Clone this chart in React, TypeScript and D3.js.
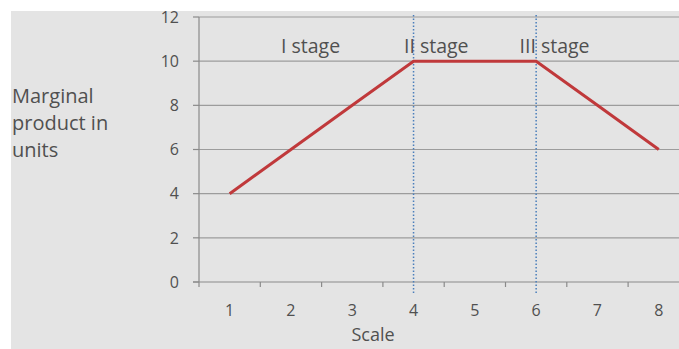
import React from "react";
import * as d3 from "d3";

const categories = ["1", "2", "3", "4", "5", "6", "7", "8"];
const marginalProduct = [4, 6, 8, 10, 10, 10, 8, 6];
const yTicks = [0, 2, 4, 6, 8, 10, 12];
const stageLabels = ["I stage", "II stage", "III stage"];
const stageAnchors = [2.32, 4.37, 6.3];
const stageBoundaries = ["4", "6"];
const yTitleLines = ["Marginal", "product  in", "units"];
const xTitle = "Scale";

const W = 679;
const H = 349;
const font = "'Open Sans', 'Noto Sans', sans-serif";
const textColor = "#505050";

export default function App() {
  const x = d3.scaleBand<string>().domain(categories).range([199, 199 + 8 * 61.3]);
  const y = d3.scaleLinear().domain([0, 12]).range([282, 17]);
  const xc = (c: string) => (x(c) as number) + x.bandwidth() / 2;
  const xv = d3
    .scaleLinear()
    .domain([1, 8])
    .range([xc("1"), xc("8")]);
  const line = d3
    .line<number>()
    .x((_, i) => xc(categories[i]))
    .y((d) => y(d));
  const bounds = categories.map((c) => x(c) as number).concat([199 + 8 * 61.3]);

  return (
    <svg
      width={W}
      height={H}
      style={{ position: "absolute", left: 0, top: 0, display: "block" }}
    >
      <rect x={0} y={0} width={W} height={H} fill="#fff" />
      <rect x={11} y={11} width={W - 11} height={H - 11} fill="#e4e4e4" />
      {yTicks.map((t) => (
        <g key={t}>
          {t > 0 && (
            <line x1={199} x2={W} y1={y(t)} y2={y(t)} stroke="#9c9c9c" strokeWidth={1.2} />
          )}
          <line x1={193} x2={199} y1={y(t)} y2={y(t)} stroke="#8a8a8a" strokeWidth={1.2} />
          <text
            x={179}
            y={y(t)}
            dy="0.36em"
            textAnchor="end"
            fontFamily={font}
            fontSize={16}
            fill={textColor}
          >
            {t}
          </text>
        </g>
      ))}
      <line x1={199} x2={199} y1={y(12)} y2={y(0)} stroke="#8a8a8a" strokeWidth={1.2} />
      <line x1={193} x2={W} y1={y(0)} y2={y(0)} stroke="#8a8a8a" strokeWidth={1.2} />
      {bounds.map((b, i) => (
        <line key={i} x1={b} x2={b} y1={y(0)} y2={y(0) + 5} stroke="#8a8a8a" strokeWidth={1.2} />
      ))}
      {categories.map((c) => (
        <text
          key={c}
          x={xc(c)}
          y={310}
          dy="0.36em"
          textAnchor="middle"
          fontFamily={font}
          fontSize={16}
          fill={textColor}
        >
          {c}
        </text>
      ))}
      {stageBoundaries.map((c) => (
        <line
          key={c}
          x1={xc(c)}
          x2={xc(c)}
          y1={15}
          y2={295}
          stroke="#4a7ebb"
          strokeWidth={1.5}
          strokeDasharray="1.5,2"
        />
      ))}
      <path d={line(marginalProduct) || ""} fill="none" stroke="#c0393b" strokeWidth={3} />
      {stageLabels.map((s, i) => (
        <text
          key={s}
          x={xv(stageAnchors[i])}
          y={46}
          dy="0.36em"
          textAnchor="middle"
          fontFamily={font}
          fontSize={19.5}
          fill={textColor}
        >
          {s}
        </text>
      ))}
      {yTitleLines.map((l, i) => (
        <text
          key={l}
          x={12}
          y={96 + i * 27}
          dy="0.36em"
          fontFamily={font}
          fontSize={20}
          fill={textColor}
        >
          {l}
        </text>
      ))}
      <text
        x={373}
        y={335}
        dy="0.36em"
        textAnchor="middle"
        fontFamily={font}
        fontSize={18}
        fill={textColor}
      >
        {xTitle}
      </text>
    </svg>
  );
}
